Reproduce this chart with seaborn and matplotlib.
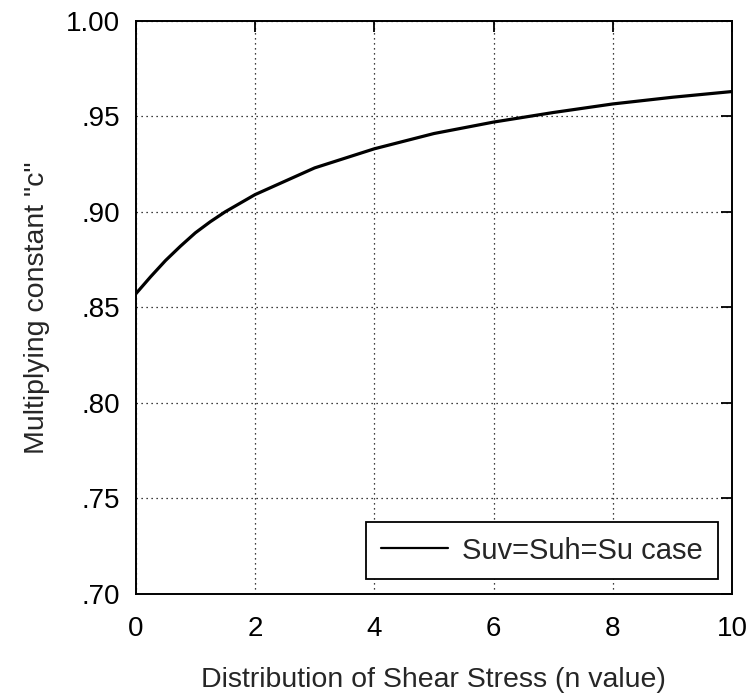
import numpy as np
import pandas as pd
import matplotlib
matplotlib.use("Agg")
import matplotlib.pyplot as plt
import seaborn as sns

# valores
n_valor = [0, 0.25, 0.5, 0.75, 1, 1.25, 1.5, 2, 2.5, 3, 3.5, 4, 5, 6, 7, 8, 9, 10]
c_valor = [0.857, 0.866, 0.8745, 0.882, 0.889, 0.8948, 0.900, 0.909, 0.916,
           0.923, 0.928, 0.933, 0.941, 0.947, 0.952, 0.9565, 0.960, 0.963]
x_ticks = [0, 2, 4, 6, 8, 10]
y_ticks = [0.70, 0.75, 0.80, 0.85, 0.90, 0.95, 1.00]
y_labels = ['.70', '.75', '.80', '.85', '.90', '.95', '1.00']

data = pd.DataFrame({'n': n_valor, 'c': c_valor})

sns.set_style('white')
plt.rcParams['font.family'] = ['Liberation Sans', 'DejaVu Sans']

fig = plt.figure(figsize=(7.54, 6.96), dpi=100)
ax = fig.add_axes([0.180, 0.147, 0.791, 0.823])

sns.lineplot(x='n', y='c', data=data, color='black', linewidth=2.3,
             label='Suv=Suh=Su case', ax=ax)

ax.set_xlim(0, 10)
ax.set_ylim(0.70, 1.00)
ax.set_xticks(x_ticks)
ax.set_yticks(y_ticks)
ax.set_yticklabels(y_labels)
ax.grid(True, color='black', linestyle=(0, (1, 3)), linewidth=0.9)
ax.tick_params(direction='in', length=8, width=1.3, labelsize=20,
               top=True, right=True, colors='black')
ax.tick_params(axis='y', pad=11)
ax.tick_params(axis='x', pad=16)
for s in ax.spines.values():
    s.set_color('black')
    s.set_linewidth(1.4)

ax.set_xlabel('Distribution of Shear Stress (n value)', fontsize=20.5, labelpad=18)
ax.set_ylabel('Multiplying constant "c"', fontsize=20.5, labelpad=12)

leg = ax.legend(loc='lower right', fontsize=21, frameon=True, fancybox=False,
                edgecolor='black', framealpha=1, handlelength=2.3,
                handletextpad=0.5, borderaxespad=0.5, borderpad=0.5)
leg.get_frame().set_linewidth(1.3)
for h in leg.get_lines():
    h.set_linewidth(1.6)

fig.savefig('out.png', dpi=100)
